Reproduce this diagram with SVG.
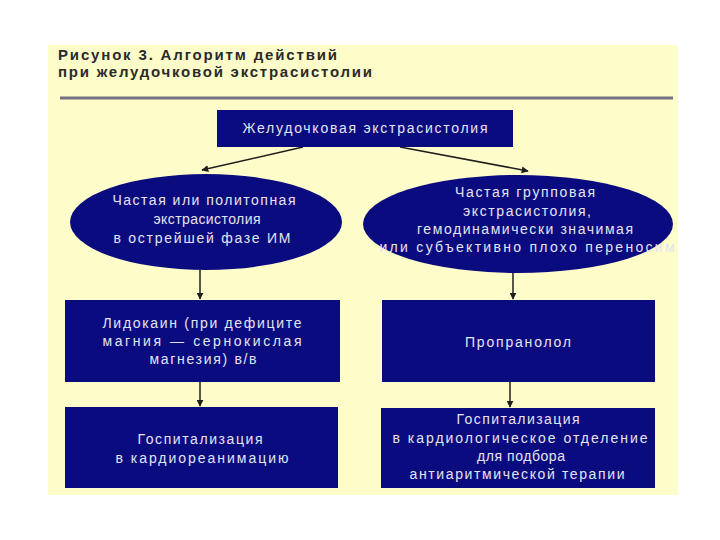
<svg xmlns="http://www.w3.org/2000/svg" width="720" height="540" viewBox="0 0 720 540">
<style>
.panel{fill:#FEFDC9}
.node{fill:#0B0B80}
.t{font-family:"Liberation Sans",Arial,sans-serif;font-size:14px;fill:#E4E4F0;text-anchor:middle}
.title{font-family:"Liberation Sans",Arial,sans-serif;font-size:15px;font-weight:bold;fill:#2A2A2A}
.c{stroke:#1E1E1E;stroke-width:1.5;fill:none;marker-end:url(#ah)}
</style>
<defs>
<marker id="ah" viewBox="0 0 10 10" refX="9" refY="5" markerWidth="7" markerHeight="7" orient="auto" markerUnits="userSpaceOnUse">
<path d="M0,0 L10,5 L0,10 z" fill="#1E1E1E"/>
</marker>
</defs>
<rect width="720" height="540" fill="#FFFFFF"/>
<rect class="panel" x="48" y="45" width="630" height="450"/>
<g id="title">
<text class="title" x="58" y="60" textLength="279" lengthAdjust="spacing">Рисунок 3. Алгоритм действий</text>
<text class="title" x="58" y="77" textLength="314" lengthAdjust="spacing">при желудочковой экстрасистолии</text>
<line x1="60" y1="98" x2="673" y2="98" stroke="#727082" stroke-width="3"/>
</g>
<g id="connectors">
<path class="c" d="M303,147 L202,170"/>
<path class="c" d="M400,147 L528,171"/>
<path class="c" d="M200,270 L200,299"/>
<path class="c" d="M513,273 L513,299"/>
<path class="c" d="M200,382 L200,406"/>
<path class="c" d="M510,382 L510,407"/>
</g>
<g id="n1">
<rect class="node" x="217" y="110" width="296" height="37"/>
<text class="t" x="365" y="133" textLength="245" lengthAdjust="spacing">Желудочковая экстрасистолия</text>
</g>
<g id="n2">
<ellipse class="node" cx="206" cy="222" rx="136" ry="48"/>
<text class="t" x="204" y="205" textLength="183" lengthAdjust="spacing">Частая или политопная</text>
<text class="t" x="207" y="224" textLength="107" lengthAdjust="spacing">экстрасистолия</text>
<text class="t" x="202" y="243" textLength="177" lengthAdjust="spacing">в острейшей фазе ИМ</text>
</g>
<g id="n3">
<ellipse class="node" cx="518" cy="224" rx="155" ry="49"/>
<text class="t" x="525" y="197" textLength="140" lengthAdjust="spacing">Частая групповая</text>
<text class="t" x="527" y="216" textLength="128" lengthAdjust="spacing">экстрасистолия,</text>
<text class="t" x="525" y="234" textLength="216" lengthAdjust="spacing">гемодинамически значимая</text>
<text class="t" x="527" y="252" textLength="295" lengthAdjust="spacing">или субъективно плохо переносим</text>
</g>
<g id="n4">
<rect class="node" x="65" y="300" width="275" height="82"/>
<text class="t" x="202" y="328" textLength="199" lengthAdjust="spacing">Лидокаин (при дефиците</text>
<text class="t" x="202" y="346" textLength="199" lengthAdjust="spacing">магния — сернокислая</text>
<text class="t" x="203" y="364" textLength="107" lengthAdjust="spacing">магнезия) в/в</text>
</g>
<g id="n5">
<rect class="node" x="382" y="300" width="273" height="82"/>
<text class="t" x="518" y="347" textLength="106" lengthAdjust="spacing">Пропранолол</text>
</g>
<g id="n6">
<rect class="node" x="65" y="407" width="273" height="81"/>
<text class="t" x="200" y="444" textLength="125" lengthAdjust="spacing">Госпитализация</text>
<text class="t" x="202" y="463" textLength="173" lengthAdjust="spacing">в кардиореанимацию</text>
</g>
<g id="n7">
<rect class="node" x="381" y="408" width="274" height="80"/>
<text class="t" x="518" y="424" textLength="123" lengthAdjust="spacing">Госпитализация</text>
<text class="t" x="520" y="443" textLength="255" lengthAdjust="spacing">в кардиологическое отделение</text>
<text class="t" x="521" y="461" textLength="88" lengthAdjust="spacing">для подбора</text>
<text class="t" x="517" y="479" textLength="215" lengthAdjust="spacing">антиаритмической терапии</text>
</g>
</svg>
